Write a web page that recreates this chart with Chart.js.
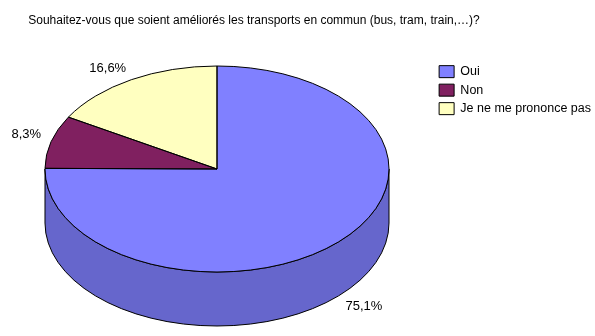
<!DOCTYPE html>
<html lang="fr">
<head>
  <meta charset="UTF-8" />
  <title>Transports en commun</title>
  <script src="https://cdn.jsdelivr.net/npm/chart.js"></script>
  <style>
    html, body {
      margin: 0;
      padding: 0;
      background: white;
    }
    #wrap {
      width: 595px;
      height: 336px;
    }
  </style>
</head>
<body>
  <div id="wrap"><canvas id="pieChart"></canvas></div>

  <script>
    const categories = ["Oui", "Non", "Je ne me prononce pas"];
    const percentages = [75.1, 8.3, 16.6];
    const topColors = ["#8080FF", "#802060", "#FFFFC0"];
    const sideColors = ["#6666CC", "#661A4D", "#CCCC9A"];

    // where the tilted pie sits on the page
    const view = { cx: 217, cy: 169, rx: 172, ry: 103, depth: 54 };
    const titleCenter = 254;
    const font = "'Liberation Sans', Arial, sans-serif";

    function applyTilt(ctx, arc) {
      const R = arc.outerRadius;
      ctx.translate(view.cx, view.cy);
      ctx.scale(view.rx / R, view.ry / R);
      ctx.translate(-arc.x, -arc.y);
    }

    const pie3d = {
      id: "pie3d",
      afterLayout(chart) {
        const t = chart.titleBlock;
        if (t) { t.left = 0; t.right = titleCenter * 2; }
      },
      beforeDatasetsDraw(chart) {
        const ctx = chart.ctx;
        const arcs = chart.getDatasetMeta(0).data;
        if (!arcs.length) return;
        const R = arcs[0].outerRadius;
        const d = view.depth * R / view.ry;

        // outer wall, front half only
        arcs.forEach((arc, i) => {
          const a = Math.max(arc.startAngle, 0);
          const b = Math.min(arc.endAngle, Math.PI);
          if (b <= a) return;
          ctx.save();
          applyTilt(ctx, arc);
          ctx.beginPath();
          ctx.arc(arc.x, arc.y, R, a, b);
          ctx.lineTo(arc.x + R * Math.cos(b), arc.y + d + R * Math.sin(b));
          ctx.arc(arc.x, arc.y + d, R, b, a, true);
          ctx.closePath();
          ctx.fillStyle = sideColors[i];
          ctx.fill();
          ctx.restore();
          ctx.lineWidth = 1;
          ctx.strokeStyle = "#000";
          ctx.stroke();
        });

        ctx.save();
        applyTilt(ctx, arcs[0]);
      },
      afterDatasetsDraw(chart) {
        const ctx = chart.ctx;
        const arcs = chart.getDatasetMeta(0).data;
        if (!arcs.length) return;
        ctx.restore();

        // slice outlines on the top face
        arcs.forEach(arc => {
          ctx.save();
          applyTilt(ctx, arc);
          ctx.beginPath();
          ctx.moveTo(arc.x, arc.y);
          ctx.arc(arc.x, arc.y, arc.outerRadius, arc.startAngle, arc.endAngle);
          ctx.closePath();
          ctx.restore();
          ctx.lineWidth = 1;
          ctx.strokeStyle = "#000";
          ctx.stroke();
        });

        // percentage labels outside the slices
        ctx.save();
        ctx.font = "13px " + font;
        ctx.fillStyle = "#000";
        arcs.forEach((arc, i) => {
          const mid = (arc.startAngle + arc.endAngle) / 2;
          const c = Math.cos(mid), s = Math.sin(mid);
          const x = view.cx + view.rx * c * 1.06;
          const y = view.cy + view.ry * s * 1.05 + (s > 0 ? view.depth : 0);
          ctx.textAlign = c < 0 ? "right" : "left";
          ctx.textBaseline = s < 0 ? "bottom" : "top";
          ctx.fillText(percentages[i].toFixed(1).replace(".", ",") + "%", x, y);
        });
        ctx.restore();
      }
    };

    new Chart(document.getElementById("pieChart"), {
      type: "pie",
      data: {
        labels: categories,
        datasets: [{
          data: percentages,
          backgroundColor: topColors,
          borderWidth: 0,
          clip: false
        }]
      },
      options: {
        responsive: true,
        maintainAspectRatio: false,
        animation: false,
        layout: { padding: { right: -6 } },
        plugins: {
          title: {
            display: true,
            text: "Souhaitez-vous que soient améliorés les transports en commun (bus, tram, train,…)?",
            color: "#000",
            font: { family: font, size: 12, weight: "normal" },
            padding: { top: 13, bottom: 32 }
          },
          legend: {
            position: "right",
            align: "start",
            fullSize: false,
            labels: {
              color: "#000",
              boxWidth: 15,
              boxHeight: 12,
              padding: 6,
              font: { family: font, size: 12.5 },
              generateLabels(chart) {
                return Chart.overrides.pie.plugins.legend.labels.generateLabels(chart)
                  .map(item => Object.assign(item, { strokeStyle: "#000", lineWidth: 1 }));
              }
            }
          },
          tooltip: { enabled: false }
        }
      },
      plugins: [pie3d]
    });
  </script>
</body>
</html>
